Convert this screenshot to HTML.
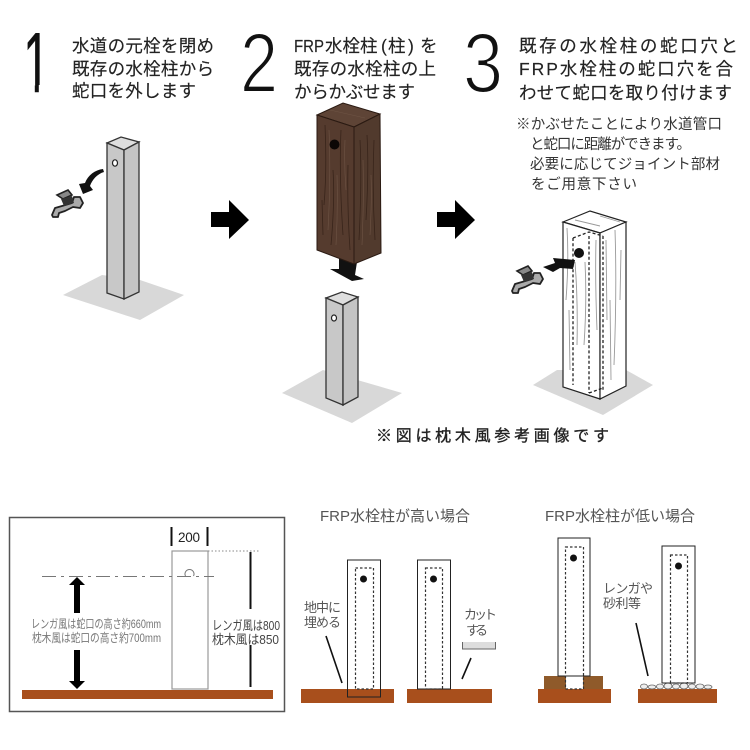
<!DOCTYPE html>
<html><head><meta charset="utf-8"><style>
html,body{margin:0;padding:0;background:#fff}
svg{display:block}
text{font-family:"Liberation Sans","Noto Sans CJK JP",sans-serif}
.t{font-size:17.5px;fill:#222;stroke:#222;stroke-width:.15px}
.n{font-size:14.5px;fill:#333}
.g{fill:#555}
.num{font-size:84px;fill:#111;stroke:#fff;stroke-width:2px;paint-order:fill stroke}
</style></head><body>
<svg width="750" height="750" viewBox="0 0 750 750" xmlns="http://www.w3.org/2000/svg">
<defs>
<g id="fc">
<path d="M52,215 L55,208 L62,206 L72,203 L74,197 L80,197 L83,203 L80,208 L73,207 L65,211 L59,213 L58,217 L53,217Z" fill="#aaa" stroke="#222" stroke-width="1.8" stroke-linejoin="round"/>
<path d="M57,195 L68,190 L72,195 L63,199Z" fill="#888" stroke="#222" stroke-width="1.6"/>
<path d="M61,199 L72,196 L74,203 L64,206Z" fill="#333"/>
</g>
<path id="bigarrow" d="M0,12 H18 V0 L38,20 L18,39 V27 H0Z" fill="#000"/>
</defs>

<!-- step 1 -->
<text x="23" y="92" textLength="27" lengthAdjust="spacingAndGlyphs" style="font-size:85px;fill:#111;stroke:#111;stroke-width:.4px">1</text>
<rect x="18" y="85" width="16.8" height="9" fill="#fff"/>
<rect x="38.8" y="85" width="14" height="9" fill="#fff"/>
<text class="t" x="72" y="52" textLength="142">水道の元栓を閉め</text>
<text class="t" x="72" y="75" textLength="142">既存の水栓柱から</text>
<text class="t" x="72" y="97" textLength="124">蛇口を外します</text>
<polygon points="63,295 102,275 140,280 184,295 140,320" fill="#d8d8d8"/>
<polygon points="107,143 121,137 139,142 124,150" fill="#dedede" stroke="#333" stroke-width="1.3"/>
<polygon points="107,143 124,150 124,299 107,293" fill="#c8c8c8" stroke="#333" stroke-width="1.3"/>
<polygon points="124,150 139,142 139,292 124,299" fill="#c4c4c4" stroke="#333" stroke-width="1.3"/>
<ellipse cx="115" cy="163" rx="2.5" ry="3.2" fill="#fff" stroke="#222" stroke-width="1.2"/>
<path d="M103,169 C95,170 88,175 85,183 L79,184 L83,194 L93,190 L90,186 C92,180 97,174 104,172Z" fill="#111"/>
<use href="#fc"/>
<use href="#bigarrow" x="211" y="200"/>

<!-- step 2 -->
<text class="num" x="240" y="92" textLength="38" lengthAdjust="spacingAndGlyphs">2</text>
<text class="t" x="294" y="52" textLength="30" lengthAdjust="spacingAndGlyphs">FRP</text>
<text class="t" y="52" x="325">水栓柱<tspan x="381">(</tspan><tspan x="388">柱</tspan><tspan x="408">)</tspan><tspan x="420">を</tspan></text>
<text class="t" x="294" y="75" textLength="142">既存の水栓柱の上</text>
<text class="t" x="294" y="98" textLength="121">からかぶせます</text>
<polygon points="339,258 357,262 355,275 364,279 352,281 330,269 339,269" fill="#111"/>
<polygon points="317,115 343,103 380,114 354,127" fill="#5e4436" stroke="#2a1a12"/>
<polygon points="317,115 354,127 354,264 317,250" fill="#553b2e" stroke="#2a1a12"/>
<polygon points="354,127 380,114 381,253 354,264" fill="#513a2d" stroke="#2a1a12"/>
<g fill="none" stroke="#38241a" stroke-width=".8">
<path d="M325,125 Q327,170 324,205M333,170 Q335,200 331,245M341,130 Q339,175 343,235M348,165 Q347,205 350,250M322,200 L323,235M360,140 Q362,180 359,240M367,135 Q369,170 366,220M374,140 Q372,190 375,240"/>
</g>
<g fill="none" stroke="#6e5445" stroke-width=".6">
<path d="M329,130 Q331,175 328,230M337,175 Q338,210 336,245M345,140 Q344,165 346,190M363,160 Q364,200 362,245M371,175 Q372,200 370,235M330,110 L365,118"/>
</g>
<circle cx="334.5" cy="144.5" r="5" fill="#0c0705"/>
<polygon points="282,393 323,370 402,393 352,423" fill="#d8d8d8"/>
<polygon points="326,298 342,292 358,297 343,305" fill="#dedede" stroke="#333" stroke-width="1.3"/>
<polygon points="326,298 343,305 343,405 326,398" fill="#c8c8c8" stroke="#333" stroke-width="1.3"/>
<polygon points="343,305 358,297 358,397 343,405" fill="#c4c4c4" stroke="#333" stroke-width="1.3"/>
<ellipse cx="334" cy="318" rx="2.5" ry="3" fill="#fff" stroke="#222" stroke-width="1.2"/>
<use href="#bigarrow" x="437" y="200"/>

<!-- step 3 -->
<text class="num" x="463" y="92" textLength="40" lengthAdjust="spacingAndGlyphs">3</text>
<text class="t" x="519" y="52" textLength="219">既存の水栓柱の蛇口穴と</text>
<text class="t" x="519" y="75" textLength="214">FRP水栓柱の蛇口穴を合</text>
<text class="t" x="519" y="99" textLength="213">わせて蛇口を取り付けます</text>
<text class="n" x="516" y="129" textLength="206">※かぶせたことにより水道管口</text>
<text class="n" x="530" y="149" textLength="161">と蛇口に距離ができます。</text>
<text class="n" x="530" y="169" textLength="190">必要に応じてジョイント部材</text>
<text class="n" x="531" y="189" textLength="106">をご用意下さい</text>
<polygon points="533,385 557,370 626,370 653,385 603,415" fill="#d8d8d8"/>
<polygon points="563,222 590,211 626,222 600,233" fill="#fff" stroke="#222" stroke-width="1.2"/>
<polygon points="563,222 600,233 600,399 563,387" fill="#fff" stroke="#222" stroke-width="1.2"/>
<polygon points="600,233 626,222 626,386 600,399" fill="#fff" stroke="#222" stroke-width="1.2"/>
<g fill="none" stroke="#999" stroke-width=".9">
<path d="M567,228 Q569,260 566,300M575,262 Q578,300 577,345M585,262 Q587,300 584,345M596,240 Q595,280 597,330M569,310 L570,370M606,240 L607,320M610,300 L611,380M615,230 Q617,290 614,365M621,250 L620,300M575,220 L600,226M600,216 L620,222"/>
</g>
<g fill="none" stroke="#222" stroke-width="1.3" stroke-dasharray="3 2.2">
<path d="M573,238 V385M589,236 V393M573,238 L589,232 L603,236M603,236 V390M589,393 L603,388"/>
</g>
<circle cx="579" cy="253" r="5" fill="#111"/>
<polygon points="543,267 555,263 553,258 575,260 573,269 560,268 553,272" fill="#111"/>
<use href="#fc" x="460" y="76"/>
<text x="376" y="441" textLength="233" style="font-size:16px;fill:#222;stroke:#222;stroke-width:.35px">※図は枕木風参考画像です</text>

<!-- bottom-left -->
<rect x="9.5" y="517.5" width="275" height="194" fill="#fff" stroke="#555" stroke-width="1.5"/>
<rect x="22" y="690" width="251" height="9" fill="#a84f1c"/>
<rect x="172" y="551" width="36" height="138" fill="#fff" stroke="#999" stroke-width="1.2"/>
<path d="M171.5,527 V546M207.5,527 V546" stroke="#111" stroke-width="2" fill="none"/>
<text x="178" y="542" style="font-size:13.5px;fill:#222" textLength="22">200</text>
<path d="M208,551 H260" stroke="#888" stroke-dasharray="1.5 2" fill="none"/>
<path d="M250.5,552 V609M250.5,645 V687" stroke="#111" stroke-width="2" fill="none"/>
<path d="M42,576.5 H214" stroke="#777" stroke-dasharray="14 5 3 5" fill="none"/>
<path d="M185.5,576 A4.5,4.5 0 1 1 193.5,576" fill="#fff" stroke="#777" stroke-width="1"/>
<polygon points="77,577 85,585 80,585 80,613 74,613 74,585 69,585" fill="#000"/>
<polygon points="77,689 85,681 80,681 80,650 74,650 74,681 69,681" fill="#000"/>
<text x="31" y="628" textLength="130" lengthAdjust="spacingAndGlyphs" style="font-size:12px;fill:#777">レンガ風は蛇口の高さ約660mm</text>
<text x="32" y="642" textLength="129" lengthAdjust="spacingAndGlyphs" style="font-size:12px;fill:#777">枕木風は蛇口の高さ約700mm</text>
<text x="212" y="630" textLength="68" lengthAdjust="spacingAndGlyphs" style="font-size:13px;fill:#444">レンガ風は800</text>
<text x="212" y="644" textLength="67" lengthAdjust="spacingAndGlyphs" style="font-size:13px;fill:#444">枕木風は850</text>

<!-- bottom-middle -->
<text class="g" x="320" y="521" textLength="150" style="font-size:15px">FRP水栓柱が高い場合</text>
<rect x="301" y="689" width="93" height="14" fill="#a84f1c"/>
<rect x="347.5" y="560" width="33" height="137" fill="none" stroke="#222" stroke-width="1"/>
<rect x="355.5" y="568" width="18" height="121" fill="none" stroke="#333" stroke-width="1.2" stroke-dasharray="2.5 2"/>
<circle cx="363.5" cy="579" r="3.5" fill="#111"/>
<rect x="407" y="689" width="85" height="14" fill="#a84f1c"/>
<rect x="417.5" y="560" width="33" height="129" fill="#fff" stroke="#222" stroke-width="1"/>
<rect x="425.5" y="568" width="17" height="121" fill="none" stroke="#333" stroke-width="1.2" stroke-dasharray="2.5 2"/>
<circle cx="433.5" cy="579" r="3.5" fill="#111"/>
<text class="g" x="304" y="612" textLength="37" style="font-size:13px">地中に</text>
<text class="g" x="304" y="627" textLength="37" style="font-size:13px">埋める</text>
<path d="M326,636 L342,683M471,658 L462,679" stroke="#111" stroke-width="1.6"/>
<text class="g" x="464" y="619" textLength="33" style="font-size:13px">カット</text>
<text class="g" x="466" y="635" textLength="22" style="font-size:13px">する</text>
<rect x="462" y="642" width="33" height="6.5" fill="#ddd"/>
<path d="M462.5,642 V649 H495.5 V642" fill="none" stroke="#666"/>

<!-- bottom-right -->
<text class="g" x="545" y="521" textLength="150" style="font-size:15px">FRP水栓柱が低い場合</text>
<rect x="544" y="676" width="59" height="13" fill="#8f5a2a"/>
<rect x="566" y="676" width="17" height="13" fill="#fff"/>
<rect x="538" y="689" width="73" height="14" fill="#a84f1c"/>
<rect x="558" y="538" width="32" height="138" fill="#fff" stroke="#222" stroke-width="1"/>
<rect x="565.5" y="547" width="18" height="142" fill="none" stroke="#333" stroke-width="1.2" stroke-dasharray="2.5 2"/>
<circle cx="573.5" cy="558" r="3.5" fill="#111"/>
<rect x="638" y="689" width="79" height="14" fill="#a84f1c"/>
<g fill="#eee" stroke="#666" stroke-width=".8">
<ellipse cx="644" cy="686.5" rx="3.5" ry="2.5"/><ellipse cx="652" cy="687" rx="4" ry="2"/><ellipse cx="660" cy="686.5" rx="3.5" ry="2.5"/><ellipse cx="668" cy="686" rx="4" ry="3"/><ellipse cx="676" cy="686.5" rx="3.5" ry="2.5"/><ellipse cx="684" cy="686" rx="4" ry="3"/><ellipse cx="692" cy="686.5" rx="3.5" ry="2.5"/><ellipse cx="700" cy="686.5" rx="4" ry="2.5"/><ellipse cx="708" cy="687" rx="4" ry="2"/>
</g>
<rect x="662" y="546" width="33" height="137" fill="#fff" stroke="#222" stroke-width="1"/>
<rect x="670.5" y="555" width="17" height="128" fill="none" stroke="#333" stroke-width="1.2" stroke-dasharray="2.5 2"/>
<circle cx="678.5" cy="566" r="3.5" fill="#111"/>
<text class="g" x="603" y="593" textLength="50" style="font-size:13px">レンガや</text>
<text class="g" x="603" y="608" textLength="38" style="font-size:13px">砂利等</text>
<path d="M636,623 L648,676" stroke="#111" stroke-width="1.6"/>
</svg>
</body></html>
